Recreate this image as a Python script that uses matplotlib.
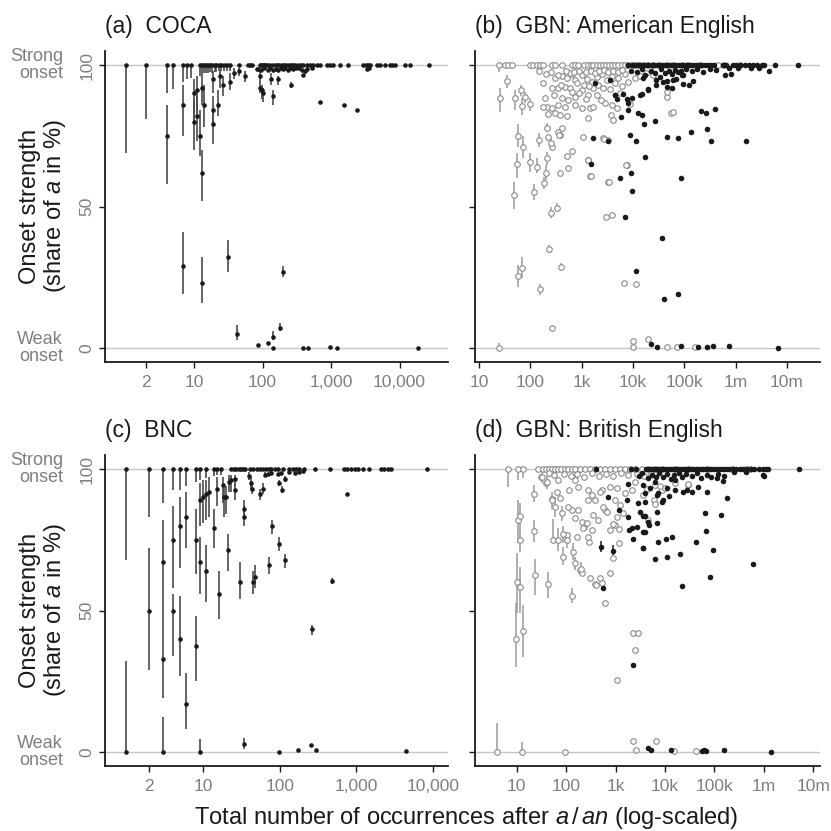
import matplotlib
matplotlib.use('Agg')
import matplotlib.pyplot as plt

plt.rcParams['font.family'] = ['Liberation Sans', 'DejaVu Sans']
plt.rcParams['mathtext.fontset'] = 'custom'
plt.rcParams['mathtext.rm'] = 'Liberation Sans'
plt.rcParams['mathtext.it'] = 'Liberation Sans:italic'

# ---------------- (a) COCA ----------------
# words at 100 % with a (short) interval
coca_top_n = [1, 2, 4, 5, 7, 8, 9, 12, 13, 14, 15, 16, 17, 18, 20, 21, 23, 25, 27, 30, 33]
coca_top_lo = [69, 81, 90, 91.5, 94, 95, 95.4, 96, 97, 97, 97, 97, 97.5, 97, 97.5, 97.5, 98, 98, 98, 98, 98]
# other words with visible intervals
coca_n = [4, 7, 7, 10, 10, 11, 11, 12, 13, 13, 13, 14, 19, 19, 19, 22, 24, 26, 31, 34,
          38, 42, 46, 56, 92, 92, 97, 102, 132, 141, 141, 166, 180, 199, 261]
coca_pct = [75, 86, 29, 90, 80, 91, 82, 75, 92, 62, 23, 86, 95, 84, 79, 86, 96, 93, 32, 94,
            97, 5, 98, 96, 96, 92, 91, 90, 95, 89, 4, 95, 7, 27, 93]
coca_lo = [58, 75, 19, 80, 70, 83, 73, 68, 86, 52, 16, 78, 90, 78, 72, 82, 92, 89, 27, 91,
           95, 3, 96, 94, 94, 90, 88, 87, 93, 86, 3, 93, 6, 25, 92]
coca_hi = [86, 93, 41, 95, 88, 96, 89, 84, 97, 70, 32, 93, 98, 89, 84, 91, 98, 96, 38, 97,
           99, 8, 99, 98, 98, 94, 93, 92, 97, 91, 6, 96, 9, 29, 94]
# words at 100 % without visible interval
coca_full_n = [46, 62, 66, 70, 92, 96, 100, 105, 110, 115, 125, 135, 150, 165, 175, 190, 205, 220,
               240, 260, 280, 300, 330, 360, 390, 440, 490, 550, 620, 690, 870, 960, 1080, 1350,
               1780, 2930, 3200, 3450, 3690, 4640, 5190, 6100, 7250, 7800, 8500, 12000, 14000, 26500]
# remaining words without visible interval
coca_pt_n = [82, 85, 95, 105, 118, 128, 140, 155, 170, 185, 200, 215, 235, 255, 275, 310, 345, 375,
             410, 450, 520, 3300, 3600, 386, 690, 1550, 2370,
             87, 122, 141, 386, 468, 966, 1230, 18600]
coca_pt_pct = [98.5, 98.6, 98.2, 98.8, 98.4, 98.9, 98.2, 98.7, 98.3, 98.8, 98.5, 98.9, 98.4, 98.8,
               98.6, 99, 98.8, 98.2, 97.8, 98.6, 99, 98.6, 99, 96.5, 87, 86, 84,
               1, 1.6, 0, 0, 0, 0.3, 0, 0]

# ---------------- (c) BNC ----------------
bnc_top_n = [1, 2, 3, 4, 5, 6, 8, 9, 11, 14, 15, 17]
bnc_top_lo = [68, 83, 88, 92.5, 92.5, 94, 95.5, 96, 96.7, 97.5, 98, 98]
bnc_n = [1, 2, 3, 3, 3, 4, 4, 5, 5, 6, 6, 8, 8, 9, 9, 9, 10, 11, 11, 12, 14, 15, 16, 18, 19, 20,
         21, 22, 23, 26, 26, 30, 34, 34, 34, 40, 42, 44, 45, 47, 55, 60, 64, 72, 79, 98, 98, 108,
         116, 116, 263, 480]
bnc_pct = [0, 50, 67, 33, 0, 75, 50, 80, 40, 83, 17, 75, 37.5, 89, 67, 0, 90, 91, 64, 92, 79, 93,
           56, 94.5, 90, 90, 71.5, 95.5, 96, 92.5, 96.4, 60, 86, 83, 3, 97.5, 95, 93, 60, 62, 91,
           93, 98, 66, 80, 73.5, 95, 92.6, 68, 96.6, 43.3, 60.5]
bnc_lo = [0, 29, 50, 19, 0, 58, 34, 65, 27, 72, 8, 63, 25, 80, 56, 0, 81, 82, 53, 83, 72, 87, 47,
          88, 83, 84, 64, 92, 92, 89, 94, 54, 83, 80, 1, 96, 93, 91, 56, 58, 89, 91, 97, 63, 77,
          71, 94, 91.5, 65, 95.5, 41.5, 59.5]
bnc_hi = [32, 72, 82, 50, 12.5, 87, 56, 90, 55, 92, 28, 86, 48, 95, 76, 4.5, 96, 96, 73, 97, 86,
          97, 64, 97, 94, 94, 77, 98, 98, 95, 98, 67, 89, 87, 5, 99, 97, 95, 64, 66, 93, 95, 99,
          69, 82, 76, 96, 94, 70, 97.5, 45, 61.5]
bnc_full_n = [23, 25, 27, 29, 31, 33, 35, 41, 45, 50, 55, 60, 66, 72, 78, 87, 95, 110, 130, 150,
              165, 180, 210, 290, 455, 680, 760, 850, 950, 1050, 1230, 1450, 2080, 2300, 2550,
              2810, 8300]
bnc_pt_n = [70, 78, 95, 105, 130, 160, 180, 200, 98, 173, 252, 293, 4470, 760]
bnc_pt_pct = [98.4, 98.5, 98.4, 98.6, 98.9, 98.5, 99, 99.2, 0, 0.6, 2.4, 0.6, 0.3, 91.2]

# ---------------- (b) GBN: American English ----------------
ame_open_n = [24, 26, 35, 50, 49, 56, 58, 58, 66, 68, 70, 73, 79, 98, 98, 120, 133, 145, 154,
              185, 202, 208, 208, 253, 253, 235, 326, 397, 24.5]
ame_open_pct = [100, 88.5, 94.3, 88.5, 54.1, 64.9, 74.9, 25.4, 91.2, 85.5, 28.2, 71.1, 88.8,
                86.1, 65.6, 55.2, 64.1, 73.5, 20.7, 58.4, 62, 67, 77.9, 72.6, 47.8, 34.9, 49.6,
                28.5, 0]
ame_open_lo = [97.6, 83.4, 91.7, 84, 49, 60, 71, 21.6, 89, 82.4, 24.6, 67, 86.5, 83.6, 62.3, 52.3,
               61.8, 71.1, 18.6, 56.3, 59.4, 64.7, 76.4, 70.6, 45.9, 33.6, 48.4, 27.3, 0]
ame_open_hi = [100, 91.7, 96.5, 91, 58.8, 68.8, 79, 29.3, 93, 88.3, 32.3, 74.9, 90.5, 88.3, 68.8,
               58.1, 67.1, 75.9, 22.7, 60.5, 64.7, 69.3, 79.5, 74.1, 49.9, 36.5, 51.3, 29.9, 1.8]
ame_open_full_n = [32, 37, 43, 98, 114, 133, 154, 179, 262, 303, 410, 640, 745, 860, 1100, 1300,
                   1500, 1700, 2000, 2300, 2600, 3000, 3400, 3900, 4500, 5200, 6000, 7000, 8000,
                   9500, 11000, 13000, 16000, 20000, 25000, 32000, 45000, 60000, 90000, 120000,
                   200000, 450000, 600000, 1200000]
ame_open_pt_n = [180, 195, 210, 224, 264, 264, 293, 303, 309, 340, 353, 353, 380, 380, 410, 420,
                 477, 477, 510, 510, 550, 593, 640, 745, 745, 745, 1000, 1000, 1000, 1070, 1250,
                 1350, 1350, 1450, 1580, 1700, 1700, 1960, 2450, 2880, 3080, 3870, 3870, 3720,
                 4170, 4800, 5200, 7000, 8700, 2630, 3310, 1320, 1450, 3310, 7600, 1310, 1500,
                 3400, 2950, 3970, 2770, 7350, 6800, 11300, 10200, 10000, 19200, 45500, 71500,
                 162000, 55500, 45500, 45500, 60000, 268, 363, 378, 420, 526, 533, 660, 268, 217,
                 174, 600, 700, 900, 1200, 1500, 1800, 2200, 2700, 3300, 4000, 5000, 6000, 800,
                 1100, 1400, 2100, 2600, 3500, 4500, 6000, 8000, 11000, 14000, 18000, 25000, 900,
                 1200, 2000, 2400, 5500, 650, 400, 350, 250, 200, 500, 150]
ame_open_pt_pct = [93.5, 88.2, 85.3, 82.6, 92, 84.7, 89.4, 95.5, 82.9, 76.2, 91.8, 85.9, 82.3,
                   75.3, 88.2, 96.2, 92.3, 85.3, 95.3, 82.1, 87.6, 91.8, 96.7, 94.7, 88.8, 85.9,
                   96.5, 91.2, 84.7, 74.7, 95.1, 89.4, 81.2, 84.9, 94.1, 91.8, 85.3, 95.9, 96.7,
                   86.5, 94.7, 96.2, 85.9, 82.3, 80.6, 84.7, 95.3, 96.7, 86.1, 74.1, 73.5, 66.4,
                   60.9, 58.8, 64.7, 66.4, 60.8, 58.7, 46.4, 46.9, 73.7, 64.8, 23.1, 22.5, 2.6,
                   0.5, 3.1, 0.5, 0.5, 0.5, 83.2, 88.8, 90.3, 83.3, 6.9, 75.3, 62, 77.9, 68, 63.7,
                   69.7, 71.1, 74.7, 85.3, 97, 97.5, 97.8, 97.5, 98, 97.2, 97.8, 98.2, 97.5, 98,
                   97.4, 98.2, 93.5, 93, 92.5, 93, 92, 91.5, 93.5, 92.5, 94, 95.5, 96, 97, 96.5,
                   90, 88, 89.5, 87.5, 90, 90.5, 93, 96.5, 97.5, 96.8, 98, 97.8]
ame_full_n = [8100, 9500, 11000, 12500, 14000, 16000, 18000, 20000, 23000, 26000, 30000, 34000,
              38000, 43000, 48000, 55000, 62000, 70000, 80000, 90000, 100000, 115000, 130000,
              150000, 170000, 195000, 220000, 250000, 290000, 330000, 380000, 560000, 650000,
              900000, 1000000, 1200000, 1500000, 1800000, 2200000, 2600000, 3200000, 3600000,
              5900000, 16600000]
ame_n = [9000, 12000, 15000, 17000, 22000, 27000, 35000, 42000, 50000, 58000, 65000, 75000,
         85000, 95000, 110000, 140000, 180000, 230000, 320000, 420000, 750000, 1100000, 2000000,
         4550000, 2800000,
         1820, 3540, 4450, 4800, 6450, 7500, 8100, 9400, 5900, 8100, 12300, 14700, 16600, 26700,
         15200, 19800, 28700, 38700, 46000, 60600, 88700, 125000, 150000, 620000, 810000,
         15800, 28000, 33000, 69000, 95000, 58000, 47000, 20000, 14000, 4470,
         1700, 3250, 8900, 11200, 46000, 77000, 135000, 209000, 265000, 395000, 272000, 336000,
         1580000, 1500, 17400, 5650, 9150, 85000, 9500, 6850, 36700, 11700, 74000, 40700, 22000,
         30000, 85000, 182000, 274000, 357000, 750000, 6800000]
ame_pct = [98, 97.5, 98.5, 96.5, 98, 97, 98.5, 97.2, 98, 96.8, 98.3, 97.5, 98, 96.5, 98.5, 97.8,
           98.6, 97.6, 98.7, 98.2, 98.8, 99, 98.8, 97.9, 99,
           93.5, 94.7, 89.4, 87.9, 89.8, 87.9, 86.5, 88.2, 81.5, 84.1, 82.9, 82.3, 79.2, 80.3,
           89.6, 91.2, 92.9, 94.1, 92.1, 94.7, 96.5, 92.8, 94.3, 96.5, 96.8,
           95.5, 94.7, 95.9, 94.9, 93.2, 91.8, 94.2, 91.4, 89.4, 89.4,
           74.1, 73.3, 75.3, 73.3, 74.7, 74.1, 76.2, 83.9, 83.2, 84.5, 77.3, 73.3, 73.3, 64.9,
           67.6, 60.2, 61.7, 60.2, 55.5, 46.4, 39, 27.3, 19, 17.2, 1.3, 0.2, 0.7, 0.5, 0.5, 0.7,
           0.7, 0.1]

# ---------------- (d) GBN: British English ----------------
bre_open_n = [6.8, 10.5, 13.6, 9.7, 10, 10.8, 11.7, 11.8, 11.7, 13.6, 22.7, 22.7, 23.5, 43.6,
              3.9, 12.7, 130, 88, 141, 148, 55, 69, 51, 60, 32, 40.5, 82, 87, 102, 200]
bre_open_pct = [100, 100, 100, 39.9, 60, 82, 83.4, 74.9, 58.4, 42.9, 91.2, 78.2, 62.5, 59.2, 0,
                0, 55.2, 69, 70.8, 66.7, 74.9, 74.9, 89, 86.7, 97.3, 95.5, 84.3, 77, 74.9, 64.7]
bre_open_lo = [93.8, 96.1, 96.7, 30.2, 49, 73.7, 78, 70.7, 49, 33.7, 88.5, 74.2, 55.5, 54.4, 0,
               0, 52.5, 66, 67.8, 64.3, 73.7, 71, 86, 83, 95, 93, 81.5, 74, 72, 62.5]
bre_open_hi = [100, 100, 100, 52.5, 70.2, 89, 88, 78.3, 65.4, 51.9, 94.4, 82, 68.3, 63.6, 10.1,
               3.7, 57.8, 72.4, 73.7, 69, 82.2, 79, 92, 90, 99, 97.5, 87, 80, 77.5, 67]
bre_open_full_n = [27.5, 34, 39, 44, 51, 60, 69, 80, 95, 110, 130, 151, 192, 240, 305, 385, 485,
                   612, 775, 980, 1230, 1550, 1970, 2500, 3390, 4600, 6300, 8600, 15800, 29000,
                   71000, 230000, 440000, 525000]
bre_open_pt_n = [192, 207, 305, 385, 486, 525, 612, 775, 908, 1150, 955, 1050, 775, 290, 280,
                 103, 130, 151, 207, 226, 330, 436, 980, 1050, 612, 390, 283, 151, 112, 69, 178,
                 525, 1550, 2140, 2500, 6340, 8600, 30000, 31, 39, 65, 53, 76, 111, 177, 282, 355,
                 224, 163, 262, 330, 487, 565, 660, 775, 1230, 1440, 395, 875, 1150, 2300, 2470,
                 2890, 1050, 2300, 6460, 2620, 15500, 41700, 95, 3550, 4300, 5900, 7900, 10000,
                 16000, 29500, 6300, 4600, 45, 58, 90, 125, 170, 230, 340, 460, 650, 900, 1300,
                 1800, 2700, 3800, 5200]
bre_open_pt_pct = [64.3, 63.1, 61.4, 59.2, 61.4, 59.6, 52.5, 63.1, 68.4, 74, 80.2, 83.2, 78.4,
                   74.3, 76.1, 76.7, 85.5, 82.6, 81.4, 79.6, 78.4, 82, 89, 93.2, 85.5, 89, 92.6,
                   96.1, 92.6, 96.1, 93.8, 92.6, 91.4, 92.6, 95.5, 94.3, 92.6, 94.3, 97.3, 95.2,
                   92, 89.3, 89.6, 86.7, 85.5, 89, 83.7, 79, 76, 80.8, 90.8, 92, 86.7, 84.9, 93.8,
                   87.3, 84.3, 59, 80.6, 78.7, 41.9, 36, 42.2, 25.4, 4, 3.9, 0.7, 0.2, 0.5, 0,
                   90.8, 92.8, 89, 94, 93.2, 94.9, 94.6, 87.5, 82, 98.5, 97.8, 98.2, 97.5, 98.4,
                   97.2, 98.6, 97.6, 98.3, 97.5, 98.5, 97.8, 98.2, 97.6, 98.4]
bre_iv_n = [515, 910]
bre_iv_pct = [72.3, 71.1]
bre_iv_lo = [70.5, 69.5]
bre_iv_hi = [74.5, 73]
bre_full_n = [400, 2100, 2600, 4100, 4700, 5300, 6000, 6800, 7700, 8700, 9800, 11000, 12500, 14000,
              16000, 18000, 20000, 23000, 26000, 29000, 33000, 37000, 42000, 47000, 53000, 60000,
              68000, 77000, 87000, 98000, 112000, 130000, 150000, 175000, 200000, 240000, 280000,
              330000, 380000, 470000, 560000, 650000, 800000, 950000, 1100000, 1200000, 5250000]
bre_n = [3000, 3500, 4500, 5500, 6500, 7500, 9000, 11000, 13000, 15000, 19000, 22000, 27000,
         35000, 45000, 55000, 70000, 85000, 120000, 160000, 250000, 1030000, 430000,
         3600, 6300, 5000, 4000, 6800, 7400, 8600, 9300, 10900, 16000, 16000, 12300, 23000, 27700,
         34700, 47300, 70000, 112000, 152000, 182000, 980000, 4000, 3550, 6800, 6800, 4600, 4800,
         4000, 65000, 138000, 67000, 43600, 13700, 10500, 7400, 3550, 95000, 20400, 11200, 6300,
         616000, 81000, 21900,
         720, 1150, 1700, 1820, 2870, 3150, 2700, 2140, 1880, 2300, 3650, 3960, 3650, 1820,
         565, 2300, 4470, 5270, 13200, 56000, 62000, 68000, 158000, 1410000]
bre_pct = [97.5, 98.5, 96.8, 98, 97.2, 98.6, 97, 98.3, 96.5, 97.8, 98.5, 97, 98.2, 97.5, 98.5,
           96.8, 98, 97.2, 98.4, 97.6, 98.8, 97.5, 99,
           94.3, 95.5, 93.2, 91.4, 90.8, 91.4, 88.5, 89, 93.2, 92.6, 96.1, 90.5, 91.8, 92.6, 92,
           93.8, 92, 96.7, 95.9, 89.9, 97.9, 88.5, 83.4, 84.9, 80.8, 81.4, 80.2, 77.9, 84.6, 83.7,
           78.1, 74.3, 76.1, 75.1, 74.3, 72, 71.4, 70, 68.8, 68.3, 66.5, 62, 58.7,
           90, 85.5, 89, 82.9, 87.9, 84.9, 79.6, 79, 78.4, 75.3, 77.9, 83.4, 72, 94.7,
           57.8, 30.7, 1.5, 0.7, 0.7, 0.5, 0.7, 0.5, 0.7, 0.1]

# ---------------- style ----------------
DARK = '#1a1a1a'
GREY = '#7f7f7f'
BAR = '#4a4a4a'
OBAR = '#9a9a9a'
OEDGE = '#8a8a8a'
LINE = '#c6c6c6'

W = H = 831
fig = plt.figure(figsize=(8.31, 8.31), dpi=100)


def make_ax(x0, y_top, x1, y_bot):
    return fig.add_axes([x0 / W, 1 - y_bot / H, (x1 - x0) / W, (y_bot - y_top) / H])


ax_a = make_ax(105, 51, 448, 362)
ax_b = make_ax(475, 51, 820, 362)
ax_c = make_ax(105, 455, 448, 766)
ax_d = make_ax(475, 455, 820, 766)


def style(ax, xlim, ticks, labels, title, left):
    ax.set_xscale('log')
    ax.set_xlim(*xlim)
    ax.set_ylim(-4.95, 104.95)
    ax.axhline(0, color=LINE, lw=1.0, zorder=0)
    ax.axhline(100, color=LINE, lw=1.0, zorder=0)
    for s in ['top', 'right']:
        ax.spines[s].set_visible(False)
    for s in ['left', 'bottom']:
        ax.spines[s].set_color(DARK)
        ax.spines[s].set_linewidth(1.3)
    ax.set_xticks(ticks)
    ax.set_xticklabels(labels)
    ax.minorticks_off()
    ax.set_yticks([0, 50, 100])
    ax.tick_params(axis='both', colors=DARK, labelcolor=GREY, length=4.5, width=1.0,
                   labelsize=12.5)
    ax.tick_params(axis='x', pad=5)
    ax.tick_params(axis='y', pad=3)
    if left:
        ax.set_yticklabels(['0', '50', '100'], rotation=90, va='center')
        tr = ax.get_yaxis_transform()
        ax.text(-0.122, 100, 'Strong\nonset', transform=tr, ha='right', va='center',
                color=GREY, fontsize=13, linespacing=1.0)
        ax.text(-0.122, 0, 'Weak\nonset', transform=tr, ha='right', va='center',
                color=GREY, fontsize=13, linespacing=1.0)
        ax.set_ylabel('Onset strength\n(share of $\\it{a}$ in %)', fontsize=17, color=DARK,
                      linespacing=1.05)
        ax.yaxis.set_label_coords(-0.108, 0.5)
    else:
        ax.set_yticklabels([])
    ax.set_title(title, loc='left', fontsize=16.5, color=DARK, pad=13)


def draw_black(ax, top_n, top_lo, n, pct, lo, hi, full_n, pt_n, pt_pct):
    ax.vlines(top_n, top_lo, [100] * len(top_n), color=BAR, lw=1.2, zorder=2)
    ax.vlines(n, lo, hi, color=BAR, lw=1.2, zorder=2)
    ax.plot(top_n, [100] * len(top_n), 'o', ms=3.3, color=DARK, mec='none', zorder=3)
    ax.plot(n, pct, 'o', ms=3.3, color=DARK, mec='none', zorder=3)
    ax.plot(full_n, [100] * len(full_n), 'o', ms=3.3, color=DARK, mec='none', zorder=3)
    ax.plot(pt_n, pt_pct, 'o', ms=3.3, color=DARK, mec='none', zorder=3)


def draw_gbn(ax, o_n, o_pct, o_lo, o_hi, o_full, o_pn, o_pp, full_n, n, pct):
    ax.vlines(o_n, o_lo, o_hi, color=OBAR, lw=1.1, zorder=2)
    kw = dict(ls='none', marker='o', ms=4.0, mfc='white', mec=OEDGE, mew=0.8, zorder=3)
    ax.plot(o_full, [100] * len(o_full), **kw)
    ax.plot(o_pn, o_pp, **kw)
    ax.plot(o_n, o_pct, **kw)
    bk = dict(ls='none', marker='o', ms=4.0, color=DARK, mec='none', zorder=4)
    ax.plot(full_n, [100] * len(full_n), **bk)
    ax.plot(n, pct, **bk)


draw_black(ax_a, coca_top_n, coca_top_lo, coca_n, coca_pct, coca_lo, coca_hi,
           coca_full_n, coca_pt_n, coca_pt_pct)
draw_black(ax_c, bnc_top_n, bnc_top_lo, bnc_n, bnc_pct, bnc_lo, bnc_hi,
           bnc_full_n, bnc_pt_n, bnc_pt_pct)
draw_gbn(ax_b, ame_open_n, ame_open_pct, ame_open_lo, ame_open_hi, ame_open_full_n,
         ame_open_pt_n, ame_open_pt_pct, ame_full_n, ame_n, ame_pct)
draw_gbn(ax_d, bre_open_n, bre_open_pct, bre_open_lo, bre_open_hi, bre_open_full_n,
         bre_open_pt_n, bre_open_pt_pct, bre_full_n, bre_n, bre_pct)
ax_d.vlines(bre_iv_n, bre_iv_lo, bre_iv_hi, color=DARK, lw=1.1, zorder=4)
ax_d.plot(bre_iv_n, bre_iv_pct, ls='none', marker='o', ms=4.0, color=DARK, mec='none', zorder=4)

corp_ticks = [2, 10, 100, 1000, 10000]
corp_labels = ['2', '10', '100', '1,000', '10,000']
gbn_ticks = [10, 100, 1e3, 1e4, 1e5, 1e6, 1e7]
gbn_labels = ['10', '100', '1k', '10k', '100k', '1m', '10m']

style(ax_a, (0.5, 5.1e4), corp_ticks, corp_labels, '(a)  COCA', True)
style(ax_b, (8.36, 4.4e7), gbn_ticks, gbn_labels, '(b)  GBN: American English', False)
style(ax_c, (0.527, 1.56e4), corp_ticks, corp_labels, '(c)  BNC', True)
style(ax_d, (1.43, 1.38e7), gbn_ticks, gbn_labels, '(d)  GBN: British English', False)

fig.text(466 / W, 7 / H,
         'Total number of occurrences after $\\it{a}\\,\\mathrm{/}\\,\\it{an}$ (log-scaled)',
         ha='center', va='baseline', fontsize=17, color=DARK)

fig.savefig('out.png', dpi=100)
